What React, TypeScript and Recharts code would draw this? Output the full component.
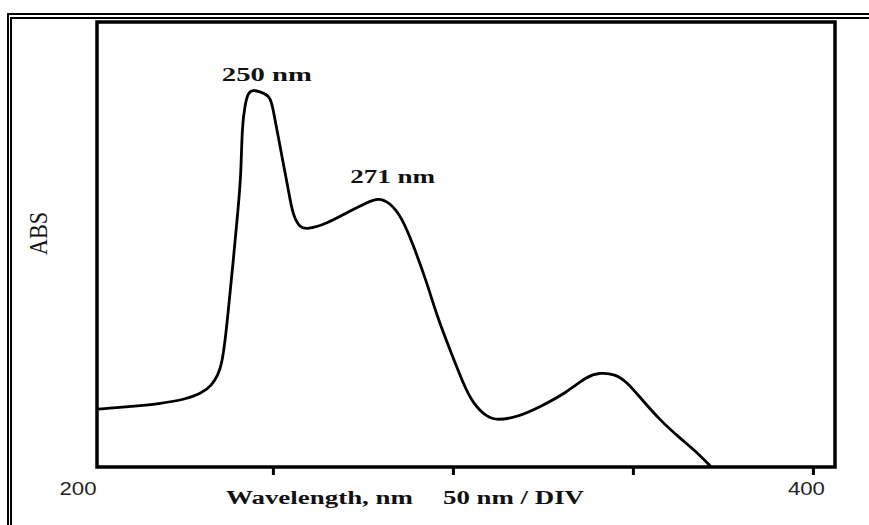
import React from 'react';
import { LineChart, Line, XAxis, YAxis, ReferenceArea, ReferenceDot } from 'recharts';

// Wavelength (nm) and absorbance (arbitrary units, 0-100 of the box)
const wavelength = [
  201.0, 209.6, 219.1, 225.4, 230.2, 232.9, 234.6, 235.7, 236.6, 237.4,
  238.8, 240.2, 241.0, 241.3, 242.1, 242.9, 244.3, 246.3, 249.1, 249.9,
  251.3, 252.7, 254.1, 255.4, 257.4, 259.3, 264.9, 270.4, 276.0, 279.1,
  282.4, 285.6, 288.8, 292.7, 295.4, 299.1, 302.7, 305.4, 309.3, 312.1,
  317.7, 324.1, 331.6, 337.1, 340.7, 344.9, 348.2, 351.8, 357.4, 362.9,
  368.5, 371.6,
];
const absorbance = [
  13.0, 13.5, 14.3, 15.2, 16.6, 18.4, 20.6, 23.3, 28.5, 34.5,
  45.9, 58.1, 65.5, 76.7, 81.2, 84.1, 84.8, 84.3, 83.4, 80.5,
  74.4, 68.4, 62.6, 56.5, 53.8, 53.4, 54.7, 57.2, 59.4, 60.5,
  59.4, 56.2, 50.0, 41.3, 34.0, 26.2, 18.8, 14.3, 11.2, 10.5,
  11.2, 13.5, 16.8, 20.4, 21.2, 20.9, 19.1, 15.7, 10.5, 6.5,
  2.7, 0,
];

const xDomain = [201, 406];
const yDomain = [0, 100];
const tickValues = [250, 300, 350, 400];
const startLabel = '200';
const endLabel = '400';
const xTitle = 'Wavelength, nm';
const xUnit = '50 nm / DIV';
const yTitle = 'ABS';

const peakLabels = ['250 nm', '271 nm'];
const peakX = [244.3, 279.1];
const peakY = [84.8, 60.5];

const data = wavelength.map((w, i) => ({ nm: w, abs: absorbance[i] }));

const serif = '"Liberation Serif", "Times New Roman", serif';
const sans = '"Liberation Sans", Arial, sans-serif';

const peakStyle = [
  { dx: 14, dy: -9, len: 90 },
  { dx: 14.5, dy: -15, len: 85 },
];

const Tick = (props: any) => {
  const { x, y, payload } = props;
  if (payload.value !== 400) return <g />;
  return (
    <text
      x={x - 7}
      y={y + 20}
      textAnchor="middle"
      fontFamily={sans}
      fontSize={18}
      fill="#222"
      textLength={37}
      lengthAdjust="spacingAndGlyphs"
    >
      {endLabel}
    </text>
  );
};

const Titles = (props: any) => {
  const vb = props.viewBox || { x: 97, y: 467 };
  const ax = vb.x - 50;
  const ay = vb.y - 233.5;
  return (
    <g>
      <text
        x={vb.x - 19}
        y={vb.y + 28}
        textAnchor="middle"
        fontFamily={sans}
        fontSize={18}
        fill="#222"
        textLength={37}
        lengthAdjust="spacingAndGlyphs"
      >
        {startLabel}
      </text>
      <text
        x={vb.x + 129}
        y={vb.y + 37}
        fontFamily={serif}
        fontWeight="bold"
        fontSize={18}
        fill="#111"
        textLength={187}
        lengthAdjust="spacingAndGlyphs"
      >
        {xTitle}
      </text>
      <text
        x={vb.x + 346}
        y={vb.y + 37}
        fontFamily={serif}
        fontWeight="bold"
        fontSize={18}
        fill="#111"
        textLength={141}
        lengthAdjust="spacingAndGlyphs"
      >
        {xUnit}
      </text>
      <text
        x={ax}
        y={ay}
        transform={`rotate(-90, ${ax}, ${ay})`}
        textAnchor="middle"
        fontFamily={serif}
        fontSize={25}
        fill="#111"
        textLength={43}
        lengthAdjust="spacingAndGlyphs"
      >
        {yTitle}
      </text>
    </g>
  );
};

const makePeakShape = (i: number) => (props: any) => {
  const { cx, cy } = props;
  const s = peakStyle[i];
  return (
    <text
      x={cx + s.dx}
      y={cy + s.dy}
      textAnchor="middle"
      fontFamily={serif}
      fontWeight="bold"
      fontSize={19}
      fill="#111"
      textLength={s.len}
      lengthAdjust="spacingAndGlyphs"
    >
      {peakLabels[i]}
    </text>
  );
};

export default function App() {
  return (
    <div style={{ position: 'absolute', left: 0, top: 0, width: 869, height: 525, overflow: 'hidden', background: '#fff' }}>
      <div
        style={{
          position: 'absolute',
          left: 7,
          top: 13,
          width: 870,
          height: 520,
          borderTop: '6px double #000',
          borderLeft: '5px double #000',
          boxSizing: 'border-box',
        }}
      />
      <div style={{ position: 'absolute', left: 0, top: 0 }}>
        <LineChart
          width={869}
          height={525}
          data={data}
          margin={{ top: 22, right: 34, bottom: 28, left: 97 }}
        >
          <XAxis
            dataKey="nm"
            type="number"
            domain={xDomain}
            ticks={tickValues}
            allowDataOverflow
            axisLine={false}
            tickLine={{ stroke: '#000', strokeWidth: 3 }}
            tickSize={8}
            tickMargin={0}
            height={30}
            tick={<Tick />}
            label={<Titles />}
          />
          <YAxis
            type="number"
            domain={yDomain}
            allowDataOverflow
            axisLine={false}
            tickLine={false}
            tick={false}
            width={0}
          />
          <Line
            type="basis"
            dataKey="abs"
            stroke="#000"
            strokeWidth={2.8}
            dot={false}
            isAnimationActive={false}
          />
          <ReferenceArea
            x1={xDomain[0]}
            x2={xDomain[1]}
            y1={yDomain[0]}
            y2={yDomain[1]}
            fill="none"
            fillOpacity={0}
            stroke="#000"
            strokeWidth={3.5}
            ifOverflow="visible"
          />
          {peakLabels.map((lab, i) => (
            <ReferenceDot
              key={lab}
              x={peakX[i]}
              y={peakY[i]}
              r={0}
              ifOverflow="visible"
              shape={makePeakShape(i)}
            />
          ))}
        </LineChart>
      </div>
    </div>
  );
}
